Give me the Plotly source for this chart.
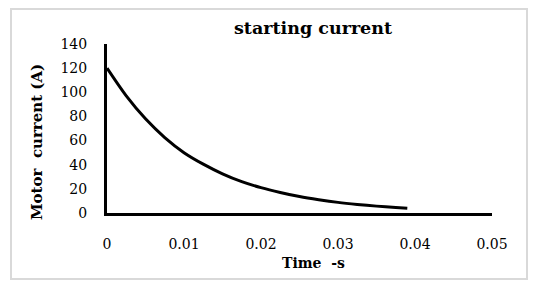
import plotly.graph_objects as go

time_s = [0, 0.0025, 0.005, 0.0075, 0.010, 0.0125, 0.015, 0.0175, 0.020, 0.0225,
          0.025, 0.0275, 0.030, 0.0325, 0.035, 0.0375, 0.039]
current_a = [120, 97, 78, 62.5, 50, 40.5, 32.5, 26, 21, 17,
             13.6, 11, 8.8, 7.1, 5.7, 4.6, 4.0]

x_ticks = [0, 0.01, 0.02, 0.03, 0.04, 0.05]
x_labels = ["0", "0.01", "0.02", "0.03", "0.04", "0.05"]
y_ticks = [0, 20, 40, 60, 80, 100, 120, 140]

FONT = "DejaVu Serif"

fig = go.Figure()
fig.add_trace(go.Scatter(x=time_s, y=current_a, mode="lines",
                         line=dict(color="black", width=3, shape="spline", smoothing=0.8),
                         showlegend=False, hoverinfo="skip"))

W, H = 538, 289
L, R, T, B = 107, 46, 44, 76
pw, ph = W - L - R, H - T - B

def px(x):
    return (x - L) / pw

def py(y):
    return (H - B - y) / ph

fig.update_layout(
    width=W, height=H,
    margin=dict(l=L, r=R, t=T, b=B),
    paper_bgcolor="white", plot_bgcolor="white",
    font=dict(family=FONT, size=14, color="black"),
    xaxis=dict(range=[0, 0.05], tickvals=x_ticks, ticktext=x_labels,
               showgrid=False, zeroline=False, showline=True,
               linecolor="black", linewidth=3, ticks="",
               ticklabelstandoff=16, tickfont=dict(family=FONT, size=14)),
    yaxis=dict(range=[0, 140], tickvals=y_ticks,
               showgrid=False, zeroline=False, showline=True,
               linecolor="black", linewidth=3, ticks="",
               ticklabelstandoff=14, tickfont=dict(family=FONT, size=14)),
    shapes=[dict(type="rect", xref="paper", yref="paper",
                 x0=px(11), x1=px(527), y0=py(279), y1=py(9),
                 line=dict(color="#d9d9d9", width=2), fillcolor="rgba(0,0,0,0)",
                 layer="below")],
    annotations=[
        dict(text="<b>starting current</b>", xref="paper", yref="paper",
             x=px(313), y=py(28), xanchor="center", yanchor="middle",
             showarrow=False, font=dict(family=FONT, size=17.5, color="black")),
        dict(text="<b>Time  -s</b>", xref="paper", yref="paper",
             x=px(313), y=py(263), xanchor="center", yanchor="middle",
             showarrow=False, font=dict(family=FONT, size=14, color="black")),
        dict(text="<b>Motor  current (A)</b>", xref="paper", yref="paper",
             x=px(37), y=py(142), xanchor="center", yanchor="middle", textangle=-90,
             showarrow=False, font=dict(family=FONT, size=15, color="black")),
    ],
)

fig.write_html("out.html")
